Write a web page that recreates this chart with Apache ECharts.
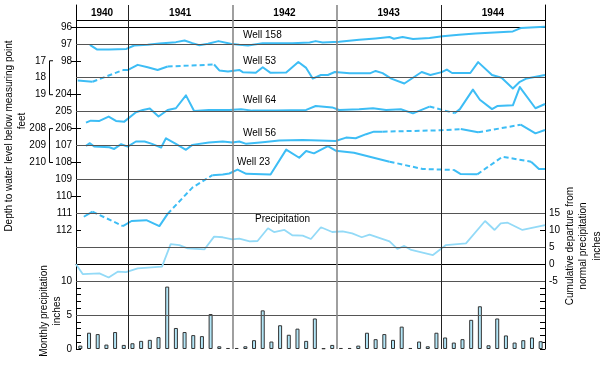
<!DOCTYPE html>
<html><head><meta charset="utf-8">
<script src="https://cdn.jsdelivr.net/npm/echarts@6/dist/echarts.min.js"></script>
<style>html,body{margin:0;padding:0;background:#fff}#c{width:600px;height:366px}</style>
</head><body><div id="c"></div>
<script>
// ---------------- DATA (month index 0 = July 1940) ----------------
const years = ['1940', '1941', '1942', '1943', '1944'];
const yearStartMonth = [0, 6, 18, 30, 42];
const yearEndMonth = [6, 18, 30, 42, 54];

const well158Month = [1.6,2.4,3.8,5.8,6.7,8.25,9.6,11.5,12.5,13.4,14.2,15.2,16.4,17.8,18.8,19.8,21.5,23.0,24.9,26.9,27.6,28.4,30.3,32.6,34.5,36.1,36.6,37.6,38.8,40.7,42.2,44.1,46.0,50.3,51.2,54.0];
const well158Depth = [97.06,97.33,97.33,97.3,97.1,97.06,96.98,96.9,96.8,96.96,97.08,97.0,96.84,97.0,97.06,97.1,96.96,96.96,96.96,96.92,96.84,96.92,96.88,96.76,96.68,96.6,96.7,96.6,96.72,96.65,96.55,96.47,96.39,96.27,96.07,95.99];
const well158Dashed = [];

const well53Month = [0.2,1.9,5.4,6.0,7.1,8.25,9.4,10.55,15.9,16.5,17.5,18.8,19.2,20.7,21.5,22.4,24.2,25.6,26.5,27.25,28.2,29.0,29.8,31.5,33.9,34.5,35.3,36.3,37.8,39.8,40.8,42.1,42.7,43.3,45.4,46.3,47.9,49.0,50.3,51.1,51.9,54.0];
const well53Depth = [18.17,18.24,17.55,17.54,17.24,17.38,17.54,17.34,17.22,17.57,17.63,17.54,17.67,17.71,17.38,17.71,17.69,17.07,17.42,18.05,17.84,17.84,17.66,17.73,17.73,17.6,17.73,18.05,18.34,17.66,17.84,17.67,17.52,17.72,17.72,17.08,17.84,18.0,18.63,18.24,18.04,17.84];
const well53Dashed = [1, 7];

const well64Month = [1.15,1.7,2.7,3.76,4.6,5.56,6.9,7.7,8.5,9.5,10.55,11.5,12.66,13.6,15.3,17.65,19.0,20.3,23.0,26.5,27.6,29.5,30.3,32.6,34.2,35.7,37.4,38.8,40.7,43.6,44.2,45.7,46.5,47.9,48.5,50.3,51.1,52.9,54.0];
const well64Depth = [205.65,205.53,205.55,205.29,205.55,205.59,205.04,204.9,204.82,205.29,204.9,204.8,204.04,204.96,204.9,204.9,204.86,204.94,204.94,204.9,204.67,204.75,204.9,204.86,204.8,204.9,204.86,205.1,204.7,205.09,204.85,203.7,204.3,204.85,204.67,204.63,203.55,204.8,204.55];
const well64Dashed = [28];

const well56Month = [1.15,1.6,2.1,3.84,4.4,5.2,5.95,6.9,7.9,8.75,9.8,10.36,11.5,12.66,13.4,15.3,16.9,18.0,18.8,19.6,21.5,23.4,26.1,29.9,31.1,32.2,33.4,34.3,35.3,42.0,44.3,46.3,51.2,52.9,54.0];
const well56Depth = [209.02,208.86,209.06,209.1,209.2,208.92,209.06,208.76,208.76,208.9,209.12,208.57,208.9,209.25,208.96,208.82,208.76,208.82,208.76,208.9,208.8,208.7,208.67,208.73,208.53,208.57,208.33,208.18,208.18,208.1,208.03,208.22,207.77,208.28,208.08];
const well56Dashed = [28, 29, 31];

const well23Month = [0.9,1.9,5.4,6.4,8.1,9.6,10.55,13.4,15.7,16.9,17.65,18.6,19.6,22.4,24.2,25.7,26.5,27.4,29.0,29.9,32.0,36.1,39.9,43.5,44.3,46.2,49.1,52.4,53.3,54.0];
const well23Depth = [111.2,110.9,111.75,111.45,111.4,111.75,111.03,109.48,108.75,108.71,108.65,108.42,108.67,108.71,107.24,107.72,107.32,107.46,107.03,107.3,107.42,107.95,108.38,108.44,108.68,108.7,107.66,107.95,108.38,108.38];
const well23Dashed = [1, 6, 7, 21, 22, 25, 26];

const precipMonth = [0,0.77,2.7,3.76,4.8,5.76,7.1,9.9,10.9,11.9,12.85,14.8,15.9,16.9,18.0,18.8,20.0,20.9,22.1,22.8,24.0,24.9,26.1,27.05,28.2,29.5,30.7,31.8,32.9,33.8,36.1,37.0,37.8,38.6,41.1,42.6,44.9,47.1,48.2,48.9,49.7,51.4,54.0];
const precipCumDeparture = [0,-2.9,-2.7,-3.9,-2.2,-2.3,-1.2,-0.7,5.95,5.65,4.7,4.4,8.15,7.95,7.35,7.55,6.75,6.85,10.6,9.5,10.1,8.55,8.45,7.45,10.9,9.5,9.7,9.1,7.95,8.75,6.75,4.5,5.4,4.2,2.7,5.65,6.15,12.75,10.1,12.05,12.25,10.1,11.55];

// monthly precipitation, Jul 1940 .. Dec 1944 (54 months)
const monthlyPrecip = [0.5,2.4,2.2,0.65,2.5,0.6,
  0.85,1.2,1.35,1.75,9.2,3.1,2.5,2.05,1.9,5.15,0.4,0.15,
  0.15,0.4,1.3,5.7,1.1,3.5,2.1,3.0,1.2,4.5,0.1,0.6,
  0.15,0.15,0.5,2.4,1.45,2.2,1.35,3.3,0.15,1.1,0.4,2.4,
  1.7,0.95,1.45,4.3,6.3,0.55,4.5,2.0,0.95,1.3,1.7,1.15];

// tick labels
const ticks158 = [96, 97, 98];
const ticks53 = [17, 18, 19];
const ticks64 = [204, 205, 206];
const ticks56 = [208, 209, 210];
const ticks23 = [107, 108, 109, 110, 111, 112];
const ticksCum = [-5, 0, 5, 10, 15];
const ticksMonthly = [0, 5, 10];

// ---------------- LAYOUT ----------------
const P_TOP = -1.29, P_BOT = 19;          // stacking units visible in grid
const FONT = 'Liberation Sans, Arial, sans-serif';
const LINE = '#3dbdf5', PRECIP_LINE = '#93daf7';
const AX = {fontSize: 10, color: '#000', fontFamily: FONT};

function wellAxis(base, pos, offset, labels, tickVals, extra) {
  return Object.assign({
    type: 'value', gridIndex: 0, position: pos, offset: offset, inverse: true,
    min: base + P_TOP, max: base + P_BOT,
    axisLine: {show: false},
    axisTick: {show: !!tickVals, inside: true, length: 5, customValues: tickVals || [], lineStyle: {color: '#000'}},
    axisLabel: Object.assign({show: true, customValues: labels, margin: 4, formatter: v => String(v)}, AX),
    splitLine: {show: false}
  }, extra || {});
}

const yAxes = [
  {type: 'value', gridIndex: 0, position: 'right', inverse: true, min: P_TOP, max: P_BOT,
   axisLine: {show: false}, axisLabel: {show: false}, splitLine: {show: false},
   axisTick: {show: true, inside: true, length: 5, customValues: [0, 2, 4, 6, 8, 10], lineStyle: {color: '#000'}}},
  wellAxis(96, 'left', 0, ticks158, [96, 97, 98], {axisLine: {show: true, lineStyle: {color: '#000', width: 1}}}),
  wellAxis(15, 'left', 26, ticks53, null),
  wellAxis(200, 'left', 0, ticks64, [204, 205, 206]),
  wellAxis(202, 'left', 26, ticks56, null),
  wellAxis(100, 'left', 0, ticks23, [107, 108, 109, 110, 111, 112, 113, 114]),
  {type: 'value', gridIndex: 0, position: 'right', min: -25, max: (14 - P_TOP) * 5,
   axisLine: {show: true, lineStyle: {color: '#000'}},
   axisTick: {show: true, inside: true, length: 5, customValues: ticksCum, lineStyle: {color: '#000'}},
   axisLabel: Object.assign({customValues: ticksCum, margin: 4, formatter: v => String(v)}, AX),
   splitLine: {show: false}},
  {type: 'value', gridIndex: 0, position: 'left', min: 0, max: (P_BOT - P_TOP) * 2.5,
   axisLine: {show: false},
   axisTick: {show: true, inside: true, length: 5, customValues: [0,1,2,3,4,5,6,7,8,9,10], lineStyle: {color: '#000'}},
   axisLabel: Object.assign({customValues: ticksMonthly, margin: 4, formatter: v => String(v)}, AX),
   splitLine: {show: false}},
  {type: 'value', gridIndex: 0, position: 'right', min: 0, max: (P_BOT - P_TOP) * 2.5,
   axisLine: {show: false}, axisLabel: {show: false}, splitLine: {show: false},
   axisTick: {show: true, inside: true, length: 5, customValues: [0,1,2,3,4,5,6,7,8,9,10], lineStyle: {color: '#000'}}}
];

const yearCenters = years.map((y, i) => (yearStartMonth[i] + yearEndMonth[i]) / 2);

const xAxes = [
  {type: 'value', gridIndex: 0, position: 'bottom', min: 0, max: 54,
   axisLine: {show: true, lineStyle: {color: '#000'}}, axisTick: {show: false},
   axisLabel: {show: false}, splitLine: {show: false}},
  {type: 'value', gridIndex: 0, position: 'top', min: 0, max: 54,
   axisLine: {show: true, lineStyle: {color: '#000'}}, axisTick: {show: false},
   axisLabel: Object.assign({show: true, inside: true, margin: 3, fontWeight: 'bold',
     customValues: yearCenters, formatter: v => years[yearCenters.indexOf(v)] || ''}, AX),
   splitLine: {show: false}}
];

function runs(months, vals, dashedSegs) {
  const out = [];
  let cur = null;
  for (let i = 0; i < months.length - 1; i++) {
    const d = dashedSegs.includes(i);
    if (!cur || cur.dashed !== d) { cur = {dashed: d, pts: [[months[i], vals[i]]]}; out.push(cur); }
    cur.pts.push([months[i + 1], vals[i + 1]]);
  }
  return out;
}

const yearLineStyle = [
  {color: '#222', width: 1}, {color: '#888', width: 1.6}, {color: '#888', width: 1.6}, {color: '#222', width: 1}
];
const series = [];
const gridLineP = [1, 3, 5, 7, 9, 11, 13, 15, 17];
series.push({
  type: 'line', xAxisIndex: 0, yAxisIndex: 0, data: [], z: 1, silent: true,
  markLine: {
    silent: true, symbol: ['none', 'none'], label: {show: false}, animation: false,
    lineStyle: {color: '#555', width: 1, type: 'solid'},
    data: gridLineP.map(p => ({yAxis: p}))
      .concat([{yAxis: -0.4, lineStyle: {color: '#000', width: 1, type: 'solid'}}])
      .concat(yearStartMonth.slice(1).map((m, i) => ({xAxis: m,
        lineStyle: Object.assign({type: 'solid'}, yearLineStyle[i])})))
  }
});

const wells = [
  [well158Month, well158Depth, well158Dashed, 1],
  [well53Month, well53Depth, well53Dashed, 2],
  [well64Month, well64Depth, well64Dashed, 3],
  [well56Month, well56Depth, well56Dashed, 4],
  [well23Month, well23Depth, well23Dashed, 5]
];
wells.forEach(([m, d, dash, ax]) => {
  runs(m, d, dash).forEach(r => series.push({
    type: 'line', xAxisIndex: 0, yAxisIndex: ax, data: r.pts, showSymbol: false, z: 3,
    lineStyle: {color: LINE, width: 2, type: r.dashed ? [5, 3] : 'solid', join: 'round'}
  }));
});
series.push({
  type: 'line', xAxisIndex: 0, yAxisIndex: 6, showSymbol: false, z: 3,
  data: precipMonth.map((m, i) => [m, precipCumDeparture[i]]),
  lineStyle: {color: PRECIP_LINE, width: 1.8}
});
series.push({
  type: 'bar', xAxisIndex: 0, yAxisIndex: 7, barWidth: 4, z: 3,
  data: monthlyPrecip.map((v, i) => [i + 0.5, v]),
  itemStyle: {color: '#b3e6f7', borderColor: '#333', borderWidth: 1}
});

const chart = echarts.init(document.getElementById('c'), null, {renderer: 'canvas'});
chart.setOption({
  animation: false,
  grid: [{left: 76, right: 55, top: 5, bottom: 17, containLabel: false}],
  xAxis: xAxes, yAxis: yAxes, series: series
});

function bracket(axisIdx, a, b) {
  const y1 = chart.convertToPixel({yAxisIndex: axisIdx}, a);
  const y2 = chart.convertToPixel({yAxisIndex: axisIdx}, b);
  return {type: 'polyline', shape: {points: [[53, y1], [49.5, y1], [49.5, y2], [53, y2]]},
          style: {stroke: '#000', lineWidth: 1, fill: null}};
}
function txt(x, y, text, rot, extra) {
  return {type: 'text', x: x, y: y, rotation: rot || 0, z: 10,
    style: Object.assign({text: text, fill: '#000', font: '10px ' + FONT,
      align: rot ? 'center' : 'left', verticalAlign: 'middle'}, extra || {})};
}
const R = Math.PI / 2;
chart.setOption({graphic: [
  bracket(2, 17, 19), bracket(4, 208, 210),
  txt(243, 35, 'Well 158'), txt(243, 61, 'Well 53'), txt(243, 100, 'Well 64'),
  txt(243, 133, 'Well 56'), txt(237, 162, 'Well 23'), txt(255, 219.5, 'Precipitation'),
  txt(9, 136, 'Depth to water level below measuring point', R),
  txt(22, 121, 'feet', R),
  txt(44, 311, 'Monthly precipitation', R),
  txt(57, 311, 'inches', R),
  txt(570, 246, 'Cumulative departure from', R),
  txt(583.5, 246, 'normal precipitation', R),
  txt(597, 246, 'inches', R)
]});
</script></body></html>
